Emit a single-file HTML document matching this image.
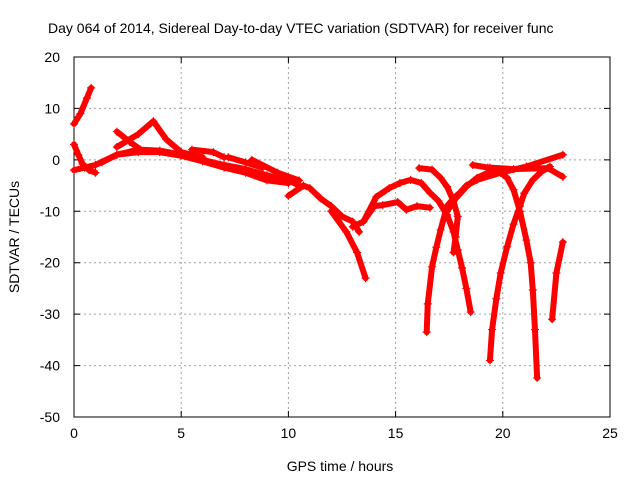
<!DOCTYPE html>
<html><head><meta charset="utf-8"><style>
body{margin:0;background:#fff}
svg{display:block;font-family:"Liberation Sans",sans-serif;font-size:14px}
</style></head><body>
<svg id="chart" width="640" height="480" viewBox="0 0 640 480">
<text x="48" y="33" fill="#000" style="white-space:pre">Day 064 of 2014, Sidereal Day-to-day VTEC variation (SDTVAR) for receiver func</text>
<g id="grid"></g>
<g id="axes"></g>
<g id="series"></g>
<text x="340" y="471" text-anchor="middle">GPS time / hours</text>
<text transform="translate(19,237) rotate(-90)" text-anchor="middle">SDTVAR / TECUs</text>
</svg>
<script>
const xTicks=[0,5,10,15,20,25];
const yTicks=[20,10,0,-10,-20,-30,-40,-50];
const trackT=[[0,7],[0.3,9],[0.6,12],[0.8,14]];
const trackA=[[0,3],[0.2,1],[0.4,-0.8],[0.7,-2],[1,-2.5]];
const trackB=[[0,-2],[0.5,-1.5],[1,-1],[2,1],[3,2],[4,1.8],[5,1],[6,0],[7,-1],[8,-1.8],[9,-3],[10,-4],[10.5,-5]];
const trackC=[[1.3,-0.5],[2,1],[3,1.5],[4,1.5],[5,0.8],[6,-0.3],[7,-1.5],[8,-2.5],[9,-4],[10,-4.5]];
const trackD=[[2,5.5],[2.6,3.5],[3.1,2]];
const trackE=[[2,2.5],[3,5],[3.7,7.5],[4.3,4],[5,1.5],[6,0.5]];
const trackF=[[5.5,2],[6.5,1.5],[7,0.5]];
const trackG=[[7.2,0.5],[8,-0.5],[8.8,-1.5]];
const trackG2=[[8.3,0],[9.5,-2.5],[10.5,-4]];
const trackH=[[10,-7],[10.7,-5],[11,-5.5],[11.5,-7.5],[12,-9],[12.5,-11],[13,-12],[13.3,-14]];
const trackI=[[12,-10],[12.7,-14],[13.2,-18],[13.6,-23]];
const trackJ=[[13,-13],[13.5,-12],[14,-9],[14.4,-8.8],[15.1,-8.2],[15.5,-9.7],[16,-9],[16.6,-9.3]];
const trackK=[[13.5,-12],[14.1,-7.2],[14.7,-5.5],[15.2,-4.5],[15.7,-3.9],[16.2,-4.5],[16.6,-6.4],[17,-8],[17.4,-10.7],[17.7,-14],[17.9,-17.5],[18.1,-21],[18.3,-25],[18.5,-29.6]];
const trackL=[[16.1,-1.6],[16.7,-1.9],[17.1,-3.5],[17.4,-5.2],[17.7,-8],[17.9,-11],[17.8,-15],[17.7,-18]];
const trackM=[[16.45,-33.5],[16.5,-28],[16.7,-20.8],[16.9,-17],[17.1,-13.6],[17.4,-9],[17.7,-7.5],[18,-6.4],[18.3,-5],[18.8,-3.9],[19.9,-2.5],[21.1,-1.3],[22.8,1]];
const trackN=[[19.4,-39],[19.5,-33],[19.7,-27],[19.9,-22],[20.2,-16.9],[20.5,-12.5],[20.8,-9],[21,-6.5],[21.4,-3.9],[21.8,-2.3],[22.2,-1.3]];
const trackO=[[18.6,-1],[19.3,-1.5],[19.9,-2.5],[20.2,-3.5],[20.5,-5.8],[20.8,-10],[21.1,-15.6],[21.3,-20],[21.4,-25.3],[21.5,-33],[21.6,-42.4]];
const trackP=[[17.4,-10],[17.8,-7.5],[18.3,-5.2],[18.8,-3.5],[19.3,-2.5],[20,-2]];
const trackQ=[[19.4,-1.5],[20.5,-1.8],[22.1,-1.6],[22.8,-3.3]];
const trackR=[[22.3,-31],[22.5,-22],[22.8,-16]];
const tracks=[trackT,trackA,trackB,trackC,trackD,trackE,trackF,trackG,trackG2,trackH,trackI,trackJ,trackK,trackL,trackM,trackN,trackO,trackP,trackQ,trackR];

const L=74,R=610,T=57,B=417,NS="http://www.w3.org/2000/svg";
const sx=v=>L+(v-0)/(25-0)*(R-L);
const sy=v=>B-(v+50)/(70)*(B-T);
function mk(tag,attrs,parent){const e=document.createElementNS(NS,tag);for(const k in attrs)e.setAttribute(k,attrs[k]);parent.appendChild(e);return e;}
const grid=document.getElementById('grid'),axes=document.getElementById('axes'),ser=document.getElementById('series');
xTicks.forEach(t=>{
  const x=sx(t);
  if(t>0&&t<25){const g=mk('line',{x1:x,x2:x,y1:T,y2:B,stroke:'#a0a0a0','stroke-dasharray':'2,3'},grid);
  
  }
  const tk=mk('path',{d:`M${x},${B}v-6M${x},${T}v6`,stroke:'#000'},axes);
  
  
  const lb=mk('text',{x:x,y:B+21,'text-anchor':'middle'},axes);lb.textContent=t;
  
  
});
yTicks.forEach(t=>{
  const y=sy(t);
  if(t<20&&t>-50){const g=mk('line',{x1:L,x2:R,y1:y,y2:y,stroke:'#a0a0a0','stroke-dasharray':'2,3'},grid);
  
  }
  const tk=mk('path',{d:`M${L},${y}h6M${R},${y}h-6`,stroke:'#000'},axes);
  
  
  const lb=mk('text',{x:L-14,y:y+5,'text-anchor':'end'},axes);lb.textContent=t;
  
  
});
const box=mk('rect',{x:L,y:T,width:R-L,height:B-T,fill:'none',stroke:'#000'},axes);


tracks.forEach(tr=>{
  const pl=mk('polyline',{points:tr.map(p=>sx(p[0])+','+sy(p[1])).join(' '),fill:'none',stroke:'#f00','stroke-width':6,'stroke-linejoin':'round','stroke-linecap':'round'},ser);
  
  
  tr.forEach(p=>{
    const x=sx(p[0]),y=sy(p[1]);
    const m=mk('path',{d:`M${x-4},${y}h8M${x},${y-4}v8`,stroke:'#f00','stroke-width':1.2},ser);
    
    
  });
});
</script>
</body></html>
